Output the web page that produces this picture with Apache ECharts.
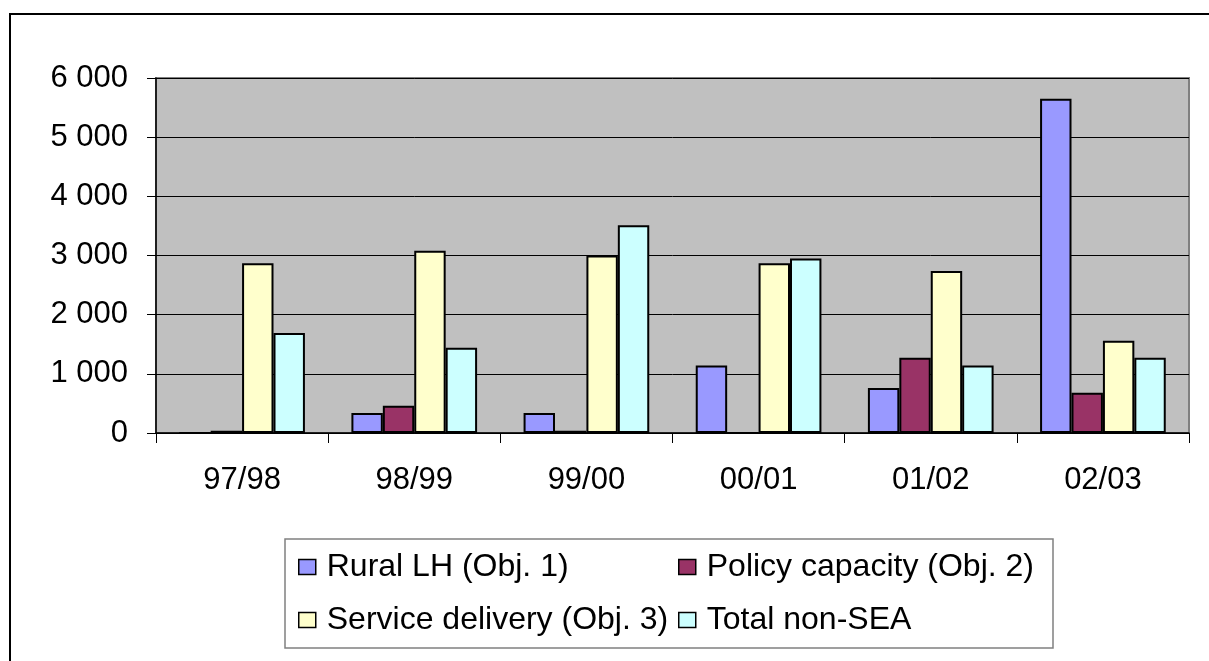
<!DOCTYPE html>
<html>
<head>
<meta charset="utf-8">
<script src="https://cdn.jsdelivr.net/npm/echarts@6/dist/echarts.min.js"></script>
<style>
  html, body { margin: 0; padding: 0; background: #fff; }
  #chart { width: 1209px; height: 661px; }
</style>
</head>
<body>
<div id="chart"></div>
<script>
// categories (financial years)
var years = ['97/98', '98/99', '99/00', '00/01', '01/02', '02/03'];
// series values
var ruralLH = [0, 340, 340, 1140, 760, 5650];
var policyCapacity = [40, 460, 40, 0, 1270, 680];
var serviceDelivery = [2870, 3080, 3000, 2870, 2740, 1560];
var totalNonSEA = [1690, 1440, 3510, 2950, 1140, 1270];
var seriesNames = ['Rural LH (Obj. 1)', 'Policy capacity (Obj. 2)', 'Service delivery (Obj. 3)', 'Total non-SEA'];

var font = "'Liberation Sans', Arial, sans-serif";

function barSeries(name, data, color) {
  return {
    name: name,
    type: 'bar',
    data: data,
    barGap: '0%',
    barCategoryGap: '27%',
    itemStyle: { color: color, borderColor: '#000', borderWidth: 2 }
  };
}

var myChart = echarts.init(document.getElementById('chart'));
var option = {
  backgroundColor: '#fff',
  animation: false,
  textStyle: { fontFamily: font, color: '#000' },
  grid: {
    left: 156, right: 20, top: 78, bottom: 228,
    show: true, backgroundColor: '#C0C0C0', borderColor: '#808080', borderWidth: 2
  },
  // 两个图例分两列摆放
  legend: [{
    data: [seriesNames[0], seriesNames[2]],
    orient: 'vertical',
    left: 298, top: 551,
    padding: 0,
    itemGap: 21,
    itemWidth: 17, itemHeight: 15,
    icon: 'rect',
    selectedMode: false,
    itemStyle: { borderWidth: 1.5 },
    textStyle: { fontFamily: font, fontSize: 32, color: '#000', lineHeight: 30, padding: [0, 0, 0, 6] }
  }, {
    data: [seriesNames[1], seriesNames[3]],
    orient: 'vertical',
    left: 678, top: 551,
    padding: 0,
    itemGap: 21,
    itemWidth: 17, itemHeight: 15,
    icon: 'rect',
    selectedMode: false,
    itemStyle: { borderWidth: 1.5 },
    textStyle: { fontFamily: font, fontSize: 32, color: '#000', lineHeight: 30, padding: [0, 0, 0, 6] }
  }],
  xAxis: {
    type: 'category',
    data: years,
    axisLine: { show: true, lineStyle: { color: '#000', width: 1.5 } },
    axisTick: { show: true, length: 10, lineStyle: { color: '#000' } },
    axisLabel: { fontFamily: font, fontSize: 31, color: '#000', margin: 32 }
  },
  yAxis: {
    type: 'value',
    min: 0, max: 6000, interval: 1000,
    axisLine: { show: true, lineStyle: { color: '#000', width: 1.5 } },
    axisTick: { show: true, length: 9, lineStyle: { color: '#000' } },
    splitLine: { show: true, lineStyle: { color: '#000', width: 1 } },
    axisLabel: {
      fontFamily: font, fontSize: 31, color: '#000', margin: 28,
      formatter: function (v) {
        return String(v).replace(/\B(?=(\d{3})+(?!\d))/g, ' ');
      }
    }
  },
  graphic: [{
    type: 'rect',
    shape: { x: 10, y: 14, width: 1250, height: 700 },
    style: { fill: 'none', stroke: '#000', lineWidth: 2 },
    silent: true
  }, {
    type: 'rect',
    shape: { x: 285, y: 539, width: 768, height: 109 },
    style: { fill: 'none', stroke: '#808080', lineWidth: 1.5 },
    silent: true
  }],
  series: [
    barSeries(seriesNames[0], ruralLH, '#9999FF'),
    barSeries(seriesNames[1], policyCapacity, '#993366'),
    barSeries(seriesNames[2], serviceDelivery, '#FFFFCC'),
    barSeries(seriesNames[3], totalNonSEA, '#CCFFFF')
  ]
};
myChart.setOption(option);
</script>
</body>
</html>
